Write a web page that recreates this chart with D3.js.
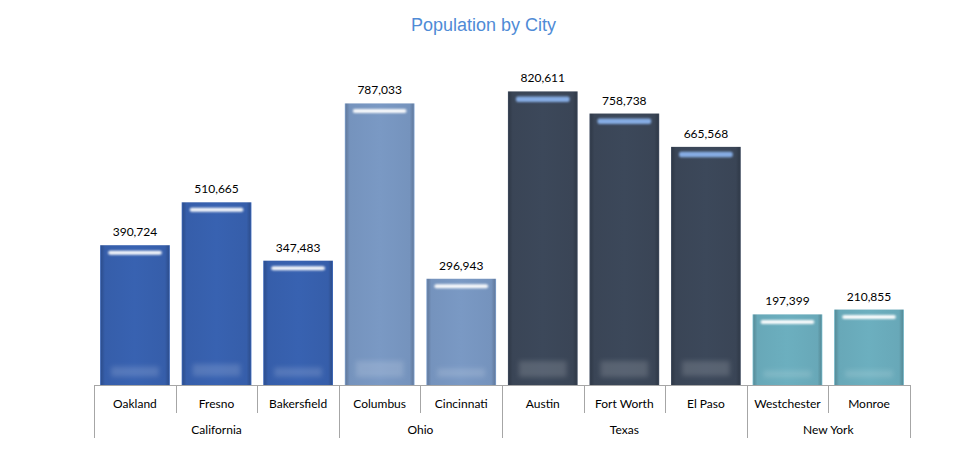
<!DOCTYPE html>
<html>
<head>
<meta charset="utf-8">
<script src="https://cdn.jsdelivr.net/npm/d3@7"></script>
<style>
  body { margin: 0; background: #fff; }
  text { font-family: "Lato", "Open Sans", sans-serif; }
</style>
</head>
<body>
<svg id="chart" width="967" height="465"></svg>
<script>
var cities = ["Oakland", "Fresno", "Bakersfield", "Columbus", "Cincinnati", "Austin", "Fort Worth", "El Paso", "Westchester", "Monroe"];
var states = ["California", "California", "California", "Ohio", "Ohio", "Texas", "Texas", "Texas", "New York", "New York"];
var population = [390724, 510665, 347483, 787033, 296943, 820611, 758738, 665568, 197399, 210855];
var stateNames = ["California", "Ohio", "Texas", "New York"];
var stateColors = ["#3760ad", "#7796c0", "#3b4658", "#6aabbb"];
var shineColors = ["#ffffff", "#ffffff", "#8ab2ec", "#ffffff"];

var svg = d3.select("#chart"),
    width = +svg.attr("width"),
    height = +svg.attr("height"),
    plotLeft = 94, plotRight = 910, plotBottom = 385, plotTop = 63;

var x = d3.scaleBand().domain(cities).range([plotLeft, plotRight]).paddingInner(0.145).paddingOuter(0.075);
var y = d3.scaleLinear().domain([0, 900000]).range([plotBottom, plotTop]);
var color = d3.scaleOrdinal().domain(stateNames).range(stateColors);
var shine = d3.scaleOrdinal().domain(stateNames).range(shineColors);

var defs = svg.append("defs");
defs.append("filter").attr("id", "blur").attr("x", "-20%").attr("y", "-100%").attr("width", "140%").attr("height", "300%")
    .append("feGaussianBlur").attr("stdDeviation", 1.1);
defs.append("filter").attr("id", "blur2").attr("x", "-20%").attr("y", "-100%").attr("width", "140%").attr("height", "300%")
    .append("feGaussianBlur").attr("stdDeviation", 2.5);

stateNames.forEach(function(s, i) {
    var c = d3.color(color(s));
    var g = defs.append("linearGradient").attr("id", "grad" + i).attr("x1", 0).attr("x2", 1).attr("y1", 0).attr("y2", 0);
    g.append("stop").attr("offset", "0%").attr("stop-color", c.brighter(0.3));
    g.append("stop").attr("offset", "2%").attr("stop-color", c.darker(0.5));
    g.append("stop").attr("offset", "7%").attr("stop-color", c.darker(0.05));
    g.append("stop").attr("offset", "50%").attr("stop-color", c.brighter(0.06));
    g.append("stop").attr("offset", "93%").attr("stop-color", c.darker(0.05));
    g.append("stop").attr("offset", "98%").attr("stop-color", c.darker(0.5));
    g.append("stop").attr("offset", "100%").attr("stop-color", c.brighter(0.3));
});

// title
svg.append("text")
    .attr("x", width / 2).attr("y", 31)
    .attr("text-anchor", "middle")
    .style("font-family", "'Liberation Sans', Arial, sans-serif")
    .style("font-size", "18px")
    .attr("fill", "#4f8bd6")
    .text("Population by City");

var data = cities.map(function(c, i) { return { city: c, state: states[i], value: population[i] }; });

var bar = svg.selectAll(".bar").data(data).enter().append("g").attr("class", "bar");

bar.append("rect")
    .attr("x", function(d) { return x(d.city); })
    .attr("y", function(d) { return y(d.value); })
    .attr("width", x.bandwidth())
    .attr("height", function(d) { return y(0) - y(d.value); })
    .attr("fill", function(d) { return "url(#grad" + stateNames.indexOf(d.state) + ")"; });

// top highlight
bar.append("rect")
    .attr("x", function(d) { return x(d.city) + 8; })
    .attr("y", function(d) { return y(d.value) + (d.state === "Texas" ? 5 : 5.5); })
    .attr("width", x.bandwidth() - 16)
    .attr("height", function(d) { return d.state === "Texas" ? 5.5 : 4; })
    .attr("rx", 2)
    .attr("fill", function(d) { return shine(d.state); })
    .attr("opacity", 0.95)
    .attr("filter", "url(#blur)");

// bottom glow
bar.append("rect")
    .attr("x", function(d) { return x(d.city) + 11; })
    .attr("y", function(d) {
        var h = y(0) - y(d.value);
        return y(0) - Math.min(20, 6 + h * 0.06) - 4;
    })
    .attr("width", x.bandwidth() - 22)
    .attr("height", function(d) {
        var h = y(0) - y(d.value);
        return Math.min(16, 3 + h * 0.05);
    })
    .attr("fill", "#ffffff")
    .attr("opacity", 0.15)
    .attr("filter", "url(#blur2)");

// value labels
bar.append("text")
    .attr("x", function(d) { return x(d.city) + x.bandwidth() / 2; })
    .attr("y", function(d) { return y(d.value) - 9; })
    .attr("text-anchor", "middle")
    .style("font-size", "12px")
    .attr("fill", "#000")
    .text(function(d) { return d3.format(",")(d.value); });

// axis
var axis = svg.append("g").attr("stroke", "#a6a6a6").attr("stroke-width", 1);
var step = x.step();
var edges = cities.map(function(c) { return x(c) - x.paddingInner() * step / 2; });
edges.push(plotRight);
axis.append("line").attr("x1", plotLeft).attr("x2", plotRight).attr("y1", plotBottom + 0.5).attr("y2", plotBottom + 0.5);

edges.forEach(function(e, i) {
    var isGroup = i === 0 || i === edges.length - 1 || states[i] !== states[i - 1];
    axis.append("line")
        .attr("x1", Math.round(e) + 0.5).attr("x2", Math.round(e) + 0.5)
        .attr("y1", plotBottom).attr("y2", isGroup ? 438 : 413);
});

svg.selectAll(".city").data(data).enter().append("text")
    .attr("x", function(d) { return x(d.city) + x.bandwidth() / 2; })
    .attr("y", 408)
    .attr("text-anchor", "middle")
    .style("font-size", "12px")
    .attr("fill", "#000")
    .text(function(d) { return d.city; });

stateNames.forEach(function(s) {
    var idx = states.map(function(v, i) { return v === s ? i : -1; }).filter(function(i) { return i >= 0; });
    var x0 = edges[idx[0]], x1 = edges[idx[idx.length - 1] + 1];
    svg.append("text")
        .attr("x", (x0 + x1) / 2)
        .attr("y", 434)
        .attr("text-anchor", "middle")
        .style("font-size", "12px")
        .attr("fill", "#000")
        .text(s);
});
</script>
</body>
</html>
